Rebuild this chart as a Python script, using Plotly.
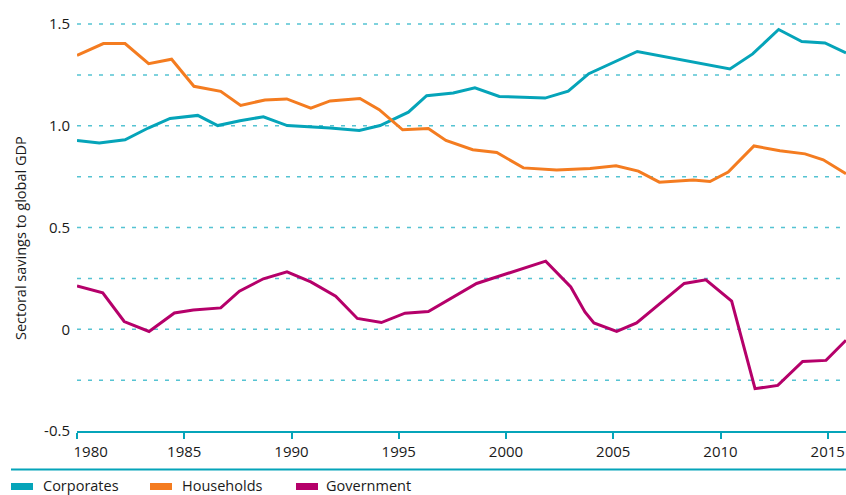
import plotly.graph_objects as go

# ---- data ----
corp_x = [1980.0, 1981.04, 1982.24, 1983.32, 1984.34, 1985.63, 1986.56, 1987.6, 1988.69, 1989.8,
          1991.8, 1993.16, 1994.13, 1995.45, 1996.3, 1997.54, 1998.55, 1999.69, 2001.82, 2002.9,
          2003.86, 2005.0, 2006.12, 2010.44, 2011.5, 2012.71, 2013.79, 2014.87, 2015.85]
corp_y = [0.928, 0.915, 0.931, 0.989, 1.036, 1.051, 1.001, 1.025, 1.044, 1.001,
          0.989, 0.977, 1.001, 1.067, 1.148, 1.161, 1.187, 1.144, 1.136, 1.170,
          1.256, 1.312, 1.365, 1.279, 1.353, 1.473, 1.414, 1.407, 1.358]

hh_x = [1980.0, 1981.23, 1982.24, 1983.34, 1984.41, 1985.45, 1986.7, 1987.63, 1988.76, 1989.78,
        1990.9, 1991.8, 1993.19, 1994.09, 1995.18, 1996.38, 1997.2, 1998.45, 1999.57, 2000.81,
        2002.36, 2003.92, 2005.13, 2006.17, 2007.15, 2008.73, 2009.51, 2010.36, 2011.56, 2012.77,
        2013.94, 2014.79, 2015.85]
hh_y = [1.346, 1.404, 1.404, 1.305, 1.327, 1.194, 1.169, 1.100, 1.127, 1.132,
        1.087, 1.122, 1.134, 1.079, 0.980, 0.987, 0.928, 0.882, 0.869, 0.793,
        0.783, 0.790, 0.803, 0.777, 0.723, 0.734, 0.726, 0.773, 0.901, 0.877,
        0.862, 0.833, 0.764]

gov_x = [1980.0, 1981.2, 1982.2, 1983.36, 1984.54, 1985.42, 1986.7, 1987.57, 1988.69, 1989.79,
         1990.9, 1992.06, 1993.07, 1994.19, 1995.29, 1996.38, 1998.63, 2001.85, 2003.02, 2003.68,
         2004.1, 2005.16, 2006.09, 2007.18, 2008.31, 2009.32, 2010.52, 2011.61, 2012.67, 2013.83,
         2014.92, 2015.85]
gov_y = [0.213, 0.179, 0.038, -0.011, 0.080, 0.095, 0.105, 0.187, 0.248, 0.282,
         0.233, 0.163, 0.053, 0.033, 0.079, 0.087, 0.225, 0.335, 0.208, 0.085,
         0.031, -0.011, 0.031, 0.127, 0.225, 0.243, 0.138, -0.292, -0.276, -0.158,
         -0.153, -0.054]

series_names = ["Corporates", "Households", "Government"]
series_colors = ["#05a4b9", "#f47c20", "#b5006a"]

x_ticks = [1980, 1985, 1990, 1995, 2000, 2005, 2010, 2015]
y_ticks = [-0.5, 0, 0.5, 1.0, 1.5]
y_tick_text = ["-0.5", "0", "0.5", "1.0", "1.5"]
y_title = "Sectoral savings to global GDP"

# ---- layout geometry (pixels) ----
W, H = 846, 495
L, R, T, B = 77, 0, 14, 64
PW, PH = W - L - R, H - T - B
FONT = "Open Sans"
TXT = "#1a1a1a"
TEAL = "#05a4b9"
GRID = "#55c3d2"


def px_x(px):
    return (px - L) / PW


def px_y(py):
    return (H - B - py) / PH


fig = go.Figure()
for name, xs, ys, col in zip(series_names, [corp_x, hh_x, gov_x], [corp_y, hh_y, gov_y], series_colors):
    fig.add_trace(go.Scatter(x=xs, y=ys, mode="lines", name=name, showlegend=False,
                             line=dict(color=col, width=3)))

# dashed grid lines at quarter steps
grid_vals = [-0.25, 0, 0.25, 0.5, 0.75, 1.0, 1.25, 1.5]
for g in grid_vals:
    fig.add_shape(type="line", xref="paper", yref="y", x0=0, x1=1, y0=g, y1=g,
                  line=dict(color=GRID, width=1.5, dash="4px,7px"), layer="below")

# 1980 label shifted right as in the source
x_tick_text = [("\u00a0" * 7 + str(v)) if v == 1980 else str(v) for v in x_ticks]

fig.update_layout(
    width=W, height=H,
    margin=dict(l=L, r=R, t=T, b=B),
    paper_bgcolor="white", plot_bgcolor="white",
    font=dict(family=FONT, size=15, color=TXT),
    xaxis=dict(range=[1980, 1980 + PW / 21.45], tickvals=x_ticks, ticktext=x_tick_text,
               showgrid=False, zeroline=False, showline=True, linecolor=TEAL, linewidth=2,
               ticks="outside", ticklen=6, tickwidth=1.5, tickcolor=TEAL,
               tickfont=dict(size=15, color=TXT)),
    yaxis=dict(range=[-0.5, 1.5 + 10 / 203], tickvals=y_ticks, ticktext=y_tick_text,
               showgrid=False, zeroline=False, showline=False, ticks="",
               ticklabelstandoff=6, tickfont=dict(size=15, color=TXT)),
)

# y-axis title
fig.add_annotation(text=y_title, xref="paper", yref="paper", x=px_x(20), y=px_y(238),
                   textangle=-90, showarrow=False, font=dict(size=14.5, color=TXT),
                   xanchor="center", yanchor="middle")

# separator line above legend
fig.add_shape(type="line", xref="paper", yref="paper", x0=px_x(11), x1=px_x(846),
              y0=px_y(469.5), y1=px_y(469.5), line=dict(color=TEAL, width=2))

# legend (swatches + labels)
sw_x = [11, 150, 296]
tx_x = [42, 181, 325]
for name, col, sx, tx in zip(series_names, series_colors, sw_x, tx_x):
    fig.add_shape(type="rect", xref="paper", yref="paper", x0=px_x(sx), x1=px_x(sx + 22),
                  y0=px_y(490), y1=px_y(483), fillcolor=col, line=dict(width=0))
    fig.add_annotation(text=name, xref="paper", yref="paper", x=px_x(tx), y=px_y(485.5),
                       xanchor="left", yanchor="middle", showarrow=False,
                       font=dict(size=14.5, color=TXT), borderpad=0)

fig.write_html("out.html", config={"displayModeBar": False},
               post_script="document.body.style.margin='0';")
